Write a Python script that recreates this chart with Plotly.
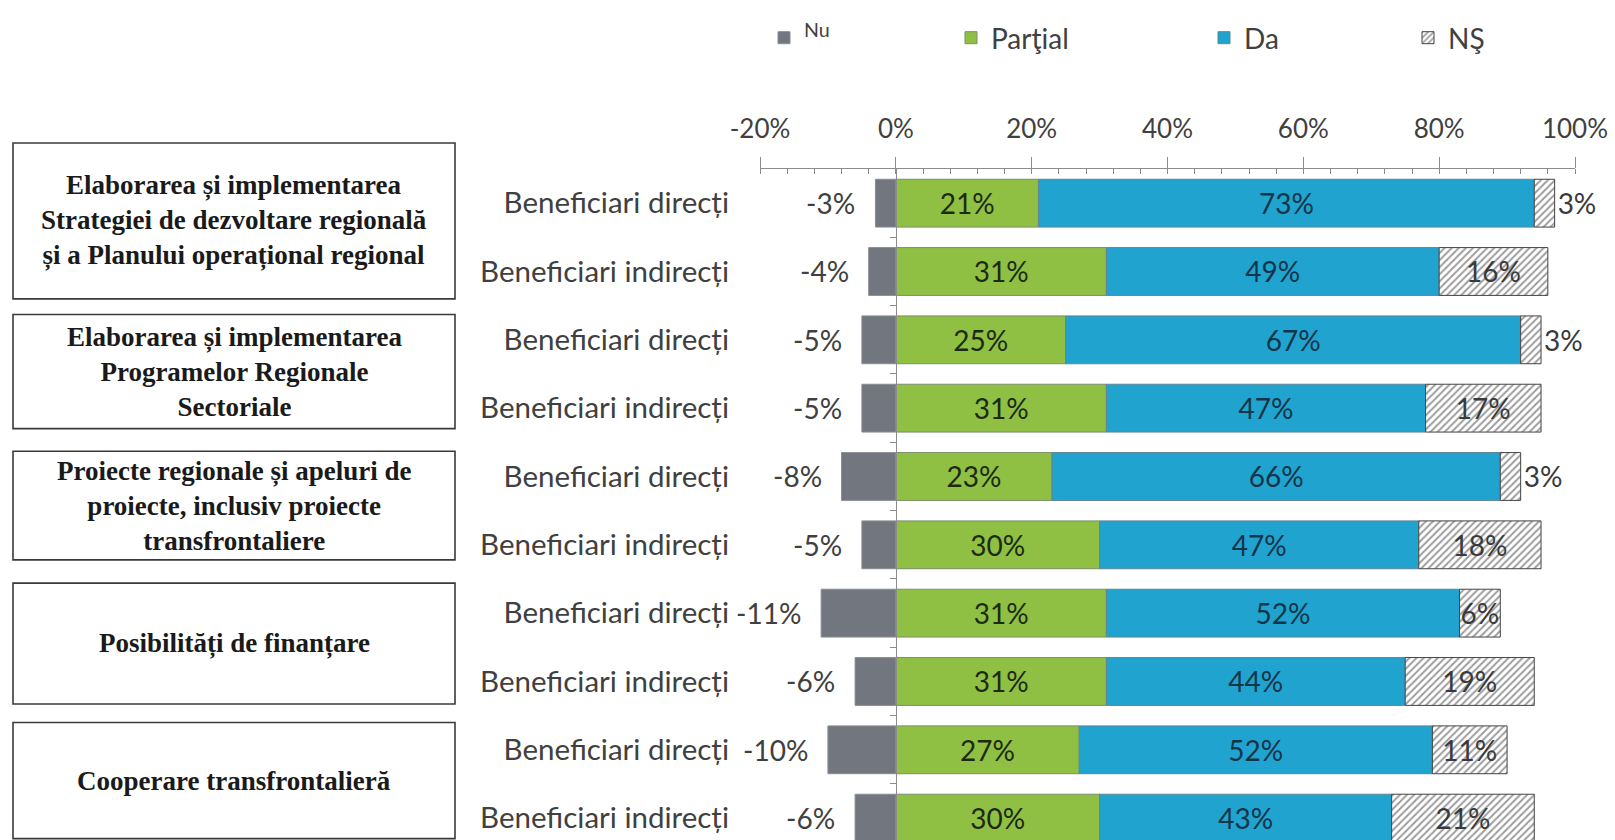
import plotly.graph_objects as go

# --- DATA ---
rows = ["Beneficiari direcți", "Beneficiari indirecți"] * 5
nu = [-3, -4, -5, -5, -8, -5, -11, -6, -10, -6]
partial = [21, 31, 25, 31, 23, 30, 31, 31, 27, 30]
da = [73, 49, 67, 47, 66, 47, 52, 44, 52, 43]
ns = [3, 16, 3, 17, 3, 18, 6, 19, 11, 21]

groups = [
    "Elaborarea și implementarea<br>Strategiei de dezvoltare regională<br>și a Planului operațional regional",
    "Elaborarea și implementarea<br>Programelor Regionale<br>Sectoriale",
    "Proiecte regionale și apeluri de<br>proiecte, inclusiv proiecte<br>transfrontaliere",
    "Posibilități de finanțare",
    "Cooperare transfrontalieră",
]
group_rows = [(0, 1), (2, 3), (4, 5), (6, 7), (8, 9)]

x_ticks = [-20, 0, 20, 40, 60, 80, 100]
x_ticktext = ["-20%", "0%", "20%", "40%", "60%", "80%", "100%"]

# --- STYLE ---
W, H = 1615, 840
ML, MR, MT, MB = 760, 40, 169, 0
FONT = "Lato"
SERIF = "Liberation Serif"
GRAY, GREEN, BLUE = "#72767e", "#8fc043", "#21a3cf"
BAR_W = 0.7
YRANGE = [9.32, -0.5]

ypos = list(range(len(rows)))


def px_to_paper_x(p):
    return (p - ML) / (W - ML - MR)


def y_to_paper(v):
    return (YRANGE[0] - v) / (YRANGE[0] - YRANGE[1])


fig = go.Figure()

fig.add_trace(go.Bar(
    y=ypos, x=nu, orientation="h", name="<sup>Nu</sup>", yaxis="y2",
    width=BAR_W, marker=dict(color=GRAY, line=dict(color="#8a8d93", width=1)),
    legend="legend", hoverinfo="skip",
))
fig.add_trace(go.Bar(
    y=ypos, x=partial, orientation="h", name="Parţial",
    width=BAR_W, marker=dict(color=GREEN, line=dict(color="#7a8f6a", width=1)),
    text=[f"{v}%" for v in partial], textposition="inside", insidetextanchor="middle",
    textangle=0, constraintext="none",
    insidetextfont=dict(family=FONT, size=28, color="#1d2a12"),
    legend="legend2", hoverinfo="skip",
))
fig.add_trace(go.Bar(
    y=ypos, x=da, orientation="h", name="Da",
    width=BAR_W, marker=dict(color=BLUE, line=dict(color="#5f8596", width=1)),
    text=[f"{v}%" for v in da], textposition="inside", insidetextanchor="middle",
    textangle=0, constraintext="none",
    insidetextfont=dict(family=FONT, size=28, color="#133549"),
    legend="legend3", hoverinfo="skip",
))
fig.add_trace(go.Bar(
    y=ypos, x=ns, orientation="h", name="NŞ",
    width=BAR_W,
    marker=dict(color="white", line=dict(color="#444444", width=1),
                pattern=dict(shape="/", fgcolor="#3a3a3a", bgcolor="white", size=5, solidity=0.4)),
    text=[f"{v}%" for v in ns],
    textposition=["outside" if v < 5 else "inside" for v in ns],
    insidetextanchor="middle", textangle=0, constraintext="none", cliponaxis=False,
    textfont=dict(family=FONT, size=28, color="#3a3a3a"),
    legend="legend4", hoverinfo="skip",
))

annotations = []
# labels for the negative "Nu" part
for i, v in enumerate(nu):
    annotations.append(dict(
        x=v, y=i, xref="x", yref="y", text=f"{v}%", showarrow=False,
        xanchor="right", yanchor="middle", xshift=-18,
        font=dict(family=FONT, size=28, color="#404040"),
    ))

shapes = []
box_x0, box_x1 = px_to_paper_x(13), px_to_paper_x(455)
box_top_pad = [0.88, 0.37, 0.37, 0.44, 0.4]
box_bot_pad = [0.4, 0.3, 0.22, 0.33, 0.3]
for g, (r0, r1), tp, bp in zip(groups, group_rows, box_top_pad, box_bot_pad):
    y_top, y_bot = y_to_paper(r0 - tp), y_to_paper(r1 + bp)
    shapes.append(dict(
        type="rect", xref="paper", yref="paper", x0=box_x0, x1=box_x1, y0=y_bot, y1=y_top,
        line=dict(color="#3a3a3a", width=1.6), fillcolor="white", layer="above",
    ))
    annotations.append(dict(
        x=(box_x0 + box_x1) / 2, y=(y_top + y_bot) / 2, xref="paper", yref="paper",
        xanchor="center", yanchor="middle",
        text=f"<b>{g}</b>", showarrow=False, align="center",
        font=dict(family=SERIF, size=27, color="#1a1a1a"),
    ))

leg_common = dict(orientation="h", xref="container", yref="container",
                  yanchor="middle", xanchor="left", bgcolor="rgba(0,0,0,0)",
                  font=dict(family=FONT, size=28, color="#404040"))
leg_y = 1 - 38 / H

fig.update_layout(
    width=W, height=H,
    margin=dict(l=ML, r=MR, t=MT, b=MB),
    paper_bgcolor="white", plot_bgcolor="white",
    barmode="relative",
    showlegend=True,
    legend=dict(x=764 / W, y=leg_y, **leg_common),
    legend2=dict(x=951 / W, y=leg_y, **leg_common),
    legend3=dict(x=1204 / W, y=leg_y, **leg_common),
    legend4=dict(x=1408 / W, y=leg_y, **leg_common),
    xaxis=dict(
        side="top", range=[-20, 100], tickvals=x_ticks, ticktext=x_ticktext,
        showgrid=False, zeroline=False, showline=True, linecolor="#8c8c8c", linewidth=1.2,
        ticks="outside", ticklen=11, tickcolor="#8c8c8c",
        minor=dict(dtick=4, ticks="inside", ticklen=5, tickcolor="#8c8c8c", showgrid=False),
        ticklabelstandoff=9,
        tickfont=dict(family=FONT, size=26, color="#404040"),
    ),
    yaxis=dict(
        range=YRANGE, tickvals=ypos, ticktext=rows, showgrid=False, zeroline=False,
        showline=False, ticks="", ticklabelstandoff=30,
        tickfont=dict(family=FONT, size=29.5, color="#404040"),
    ),
    yaxis2=dict(
        range=YRANGE, overlaying="y", anchor="free", position=20 / 120, side="left",
        showline=True, linecolor="#8c8c8c", linewidth=1, showgrid=False, zeroline=False,
        ticks="outside", ticklen=6, tickcolor="#8c8c8c",
        tickvals=[i + 0.5 for i in ypos[:-1]], showticklabels=False,
    ),
    annotations=annotations,
    shapes=shapes,
)

# drop the page's default body margin so the figure sits at the window's corner
fig.write_html("out.html", config={"displayModeBar": False},
               post_script="document.body.style.margin='0';")
